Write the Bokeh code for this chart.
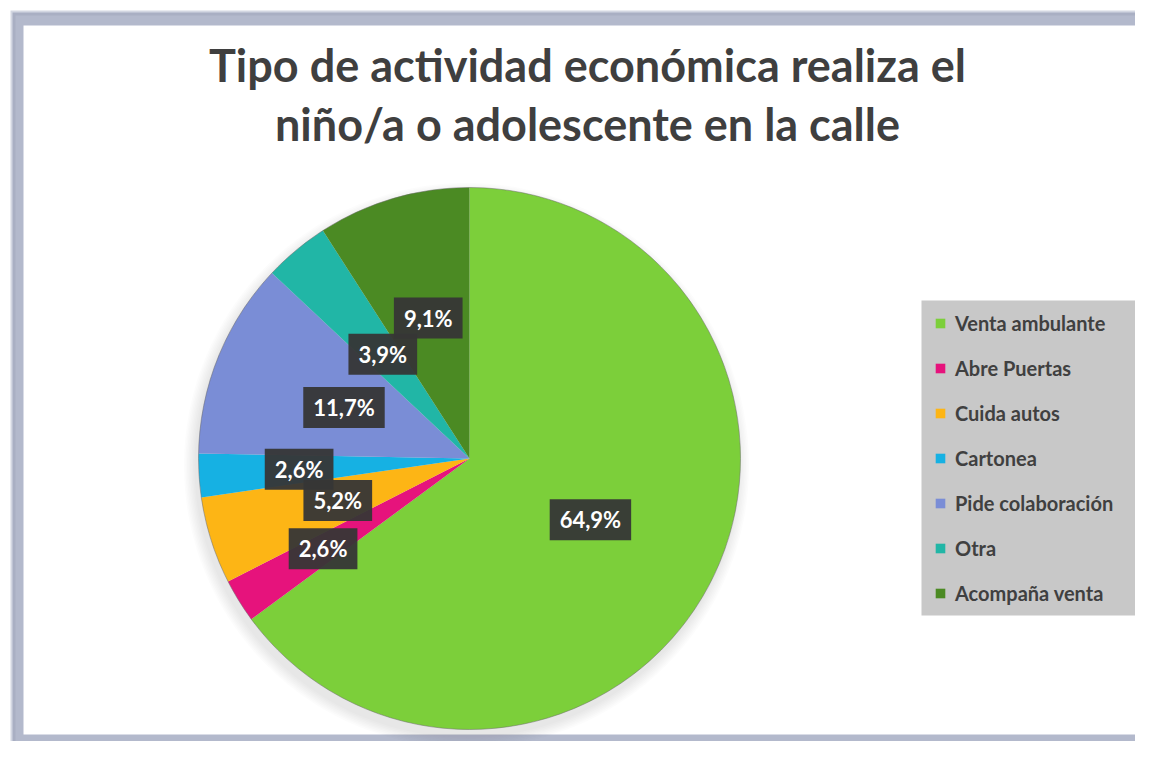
import numpy as np
from bokeh.plotting import figure
from bokeh.models import Range1d, ColumnDataSource, Legend, LegendItem, Label
from bokeh.embed import file_html
from bokeh.resources import INLINE
from bokeh.core.properties import value

# ---- data ----
categories = ["Venta ambulante", "Abre Puertas", "Cuida autos", "Cartonea",
              "Pide colaboración", "Otra", "Acompaña venta"]
percentages = [64.9, 2.6, 5.2, 2.6, 11.7, 3.9, 9.1]
title_lines = ["Tipo de actividad económica realiza el",
               "niño/a o adolescente en la calle"]

# ---- styles ----
colors = ["#7ccf3a", "#e6137c", "#fdb515", "#16b1e3", "#7a8dd6", "#21b6a6", "#4b8a23"]
label_radius_frac = [0.5, 0.635, 0.51, 0.63, 0.5, 0.5, 0.54]

W, H = 1135, 741
TOP = 757  # flip: data y = TOP - pixel row

p = figure(width=W, height=H, output_backend="svg", toolbar_location=None,
           x_range=Range1d(0, W), y_range=Range1d(TOP - H, TOP), min_border=0)
p.axis.visible = False
p.grid.visible = False
p.outline_line_color = None
p.background_fill_color = "white"
p.border_fill_color = "white"

# frame
p.quad(left=[10], right=[1200], top=[TOP - 10], bottom=[TOP - 760],
       fill_color="#d3d7e2", line_color=None)
p.quad(left=[12], right=[1200], top=[TOP - 12], bottom=[TOP - 760],
       fill_color="#a9afc3", line_color=None)
p.quad(left=[15], right=[1200], top=[TOP - 15], bottom=[TOP - 760],
       fill_color="#b3b9cc", line_color=None)
p.quad(left=[23], right=[1200], top=[TOP - 25], bottom=[TOP - 734],
       fill_color="white", line_color=None)

# pie
cx, cy, R = 469, TOP - 458, 271
vals = np.array(percentages, dtype=float)
frac = vals / vals.sum()
cum = np.concatenate([[0], np.cumsum(frac)])
start = np.pi / 2 - 2 * np.pi * cum[:-1]
end = np.pi / 2 - 2 * np.pi * cum[1:]
mid = (start + end) / 2

# soft shadow
for k in range(8):
    p.circle(x=[cx - 3], y=[cy - 7], radius=R + 1 + k * 1.5,
             fill_color="#808080", fill_alpha=0.025, line_color=None)

src = ColumnDataSource(dict(cat=categories, val=percentages, start=start, end=end, color=colors))
r = p.wedge(x=cx, y=cy, radius=R, start_angle="start", end_angle="end",
            direction="clock", fill_color="color", line_color=None, source=src)
p.circle(x=[cx], y=[cy], radius=R, fill_color=None, line_color="#6a6a6a",
         line_alpha=0.5, line_width=1)

# data labels
rf = np.array(label_radius_frac)
lsrc = ColumnDataSource(dict(
    x=cx + rf * R * np.cos(mid),
    y=cy + rf * R * np.sin(mid),
    t=[f"{v:.1f}".replace(".", ",") + "%" for v in percentages]))
p.text(x="x", y="y", text="t", source=lsrc, text_align="center", text_baseline="middle",
       text_font=value("Lato"), text_font_style="bold", text_font_size="22px",
       text_color="white", background_fill_color="#363636", background_fill_alpha=0.95,
       padding=dict(left=10, right=10, top=7, bottom=7))

# title
for line, yb in zip(title_lines, [82 - 18, 140 - 17]):
    p.add_layout(Label(x=587, y=TOP - yb, text=line, text_align="center",
                       text_baseline="alphabetic", text_font="Lato",
                       text_font_style="bold", text_font_size="45px",
                       text_color="#3f3f3f"))

# legend background panel
p.quad(left=[921], right=[1141], top=[TOP - 300], bottom=[TOP - 615],
       fill_color="#c8c8c8", line_color=None)

# legend
items = [LegendItem(label=c, renderers=[r], index=i) for i, c in enumerate(categories)]
legend = Legend(items=items, location=(934, 136), margin=0, padding=0,
                background_fill_alpha=0.0,
                border_line_color=None, label_text_font="Lato",
                label_text_font_style="bold",
                label_text_font_size="20px", label_text_color="#404040",
                glyph_width=12, glyph_height=12, label_height=20, spacing=21,
                label_standoff=9)
p.add_layout(legend)

open("out.html", "w").write(file_html(p, INLINE))
